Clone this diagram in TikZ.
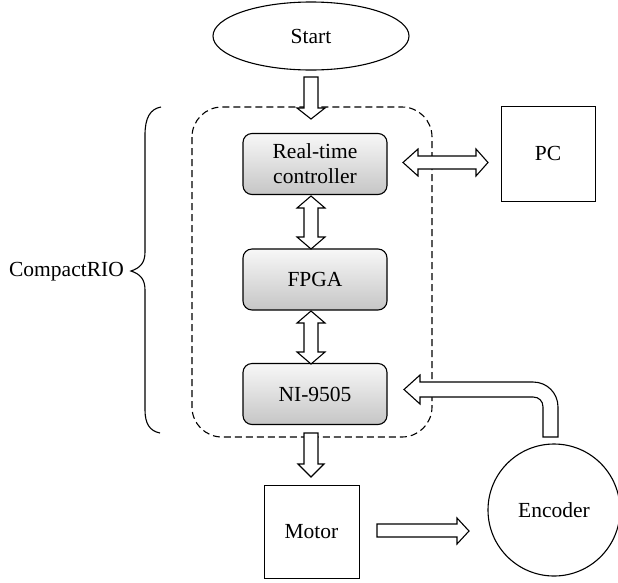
\documentclass[tikz,border=0pt]{standalone}
\usepackage{fontspec}
\setmainfont{Liberation Serif}
\usetikzlibrary{shapes.geometric}
\begin{document}
\begin{tikzpicture}[x=1pt,y=-1pt,
  every node/.style={font=\fontsize{21.5}{25}\selectfont, text=black},
  gbox/.style={draw, line width=1.1pt, rounded corners=9pt, minimum width=144pt, minimum height=61pt, inner sep=0pt, align=center, top color=gray!6, bottom color=gray!45},
  wbox/.style={draw, line width=0.9pt, inner sep=0pt},
  barrow/.style={draw, line width=1.1pt, fill=white, line join=miter},
  dashbox/.style={draw, line width=1.1pt, dash pattern=on 7pt off 4pt, rounded corners=30pt}]
\useasboundingbox (0,0) rectangle (618,582);
% dashed CompactRIO region
\draw[dashbox] (192,107) rectangle (432,437);
% brace
\draw[line width=1.1pt] (161,107) .. controls (150,109) and (145,118) .. (145,135) -- (145,252)
  .. controls (145,263) and (140,268) .. (131,271) .. controls (140,274) and (145,279) .. (145,290)
  -- (145,410) .. controls (145,424) and (150,431) .. (160,433);
\node[anchor=east, inner sep=0pt] (crio) at (124,272) {CompactRIO};
% nodes
\node[draw, ellipse, line width=1.1pt, minimum width=196pt, minimum height=68pt, inner sep=0pt] (start) at (311,36) {Start};
\node[gbox] (rt) at (315,164) {Real-time\\controller};
\node[gbox] (fpga) at (315,279.5) {FPGA};
\node[gbox] (ni) at (315,394) {NI-9505};
\node[wbox, minimum width=94pt, minimum height=95pt] (pc) at (548,153.5) {PC};
\node[wbox, minimum width=95pt, minimum height=93pt] (motor) at (311.5,531.5) {Motor};
\node[draw, circle, line width=1.1pt, minimum size=132pt, inner sep=0pt] (enc) at (554,510) {Encoder};
% block arrows
% Start -> RT
\draw[barrow] (304,77) -- (318,77) -- (318,108) -- (325,108) -- (311,119) -- (297,108) -- (304,108) -- cycle;
% RT <-> FPGA
\draw[barrow] (311,196) -- (325,208) -- (318,208) -- (318,237) -- (325,237) -- (311,249) -- (297,237) -- (304,237) -- (304,208) -- (297,208) -- cycle;
% FPGA <-> NI
\draw[barrow] (311,311) -- (325,323) -- (318,323) -- (318,352) -- (325,352) -- (311,364) -- (297,352) -- (304,352) -- (304,323) -- (297,323) -- cycle;
% NI -> Motor
\draw[barrow] (304,433) -- (318,433) -- (318,464) -- (324,464) -- (311,477) -- (298,464) -- (304,464) -- cycle;
% Motor -> Encoder
\draw[barrow] (377,524) -- (457,524) -- (457,518) -- (469,531) -- (457,544) -- (457,537) -- (377,537) -- cycle;
% RT <-> PC
\draw[barrow] (403,162.5) -- (418,149) -- (418,156) -- (476,156) -- (476,149) -- (488,162.5) -- (476,176) -- (476,169) -- (418,169) -- (418,176) -- cycle;
% Encoder -> NI (bent)
\draw[barrow] (404,389.5) -- (420,375) -- (420,382) -- (533,382) .. controls (547,382) and (558,393) .. (558,407)
  -- (558,437) -- (543,437) -- (543,407) .. controls (543,401) and (539,397) .. (533,397) -- (420,397) -- (420,404) -- cycle;
\end{tikzpicture}
\end{document}
